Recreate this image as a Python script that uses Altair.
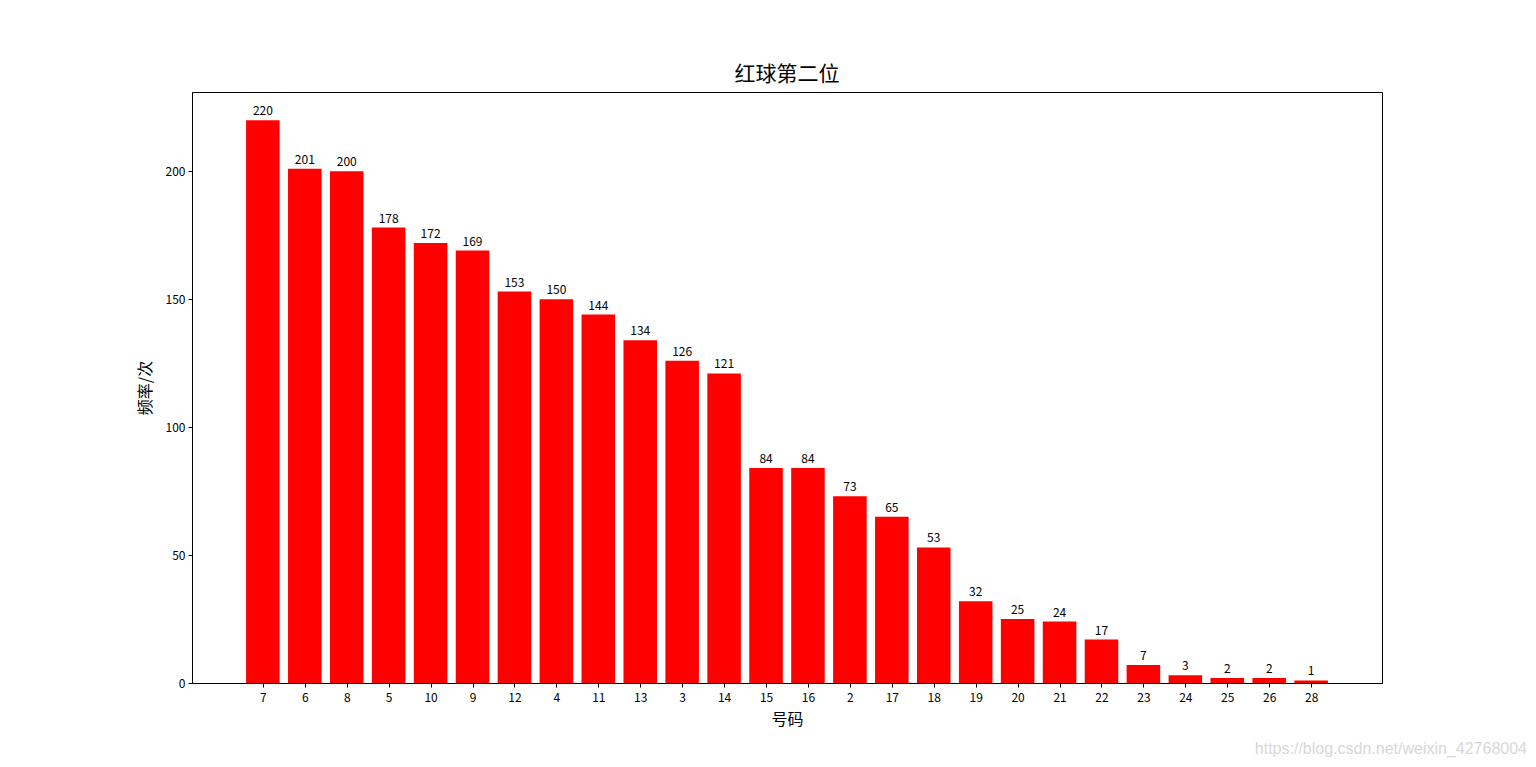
import altair as alt
import pandas as pd

numbers = ["7", "6", "8", "5", "10", "9", "12", "4", "11", "13", "3", "14", "15",
           "16", "2", "17", "18", "19", "20", "21", "22", "23", "24", "25", "26", "28"]
counts = [220, 201, 200, 178, 172, 169, 153, 150, 144, 134, 126, 121, 84,
          84, 73, 65, 53, 32, 25, 24, 17, 7, 3, 2, 2, 1]

df = pd.DataFrame({"号码": numbers, "次数": counts})
df["idx"] = range(len(df))
df["lo"] = df["idx"] - 0.4
df["hi"] = df["idx"] + 0.4
FONT = "Noto Sans CJK SC"

label_arr = "[" + ",".join("'" + n + "'" for n in numbers) + "]"

x_axis = alt.Axis(title="号码", values=list(range(len(numbers))), grid=False,
                  labelExpr=label_arr + "[datum.value]",
                  labelAngle=0, labelFontSize=12, labelFont=FONT,
                  labelColor="black", titleFont=FONT, titleFontSize=16,
                  titleFontWeight="normal", titleColor="black", titlePadding=8,
                  tickColor="black", tickSize=4, domainColor="black",
                  labelPadding=5, labelFlush=False, labelOverlap=False)
x_scale = alt.Scale(domain=[-1.69, 26.69], nice=False, zero=False, padding=0)
y_scale = alt.Scale(domain=[0, 231], nice=False, padding=0)
y = alt.Y("次数:Q", scale=y_scale,
          axis=alt.Axis(title="频率/次", values=[0, 50, 100, 150, 200], grid=False,
                        labelFontSize=12, labelFont=FONT, labelColor="black",
                        titleFont=FONT, titleFontSize=16, titleFontWeight="normal",
                        titleColor="black", titlePadding=12, tickColor="black",
                        tickSize=4, domainColor="black", labelPadding=3))

bars = alt.Chart(df).mark_bar(color="#ff0000").encode(
    x=alt.X("lo:Q", scale=x_scale, axis=x_axis), x2="hi:Q", y=y, y2=alt.datum(0))
labels = alt.Chart(df).mark_text(baseline="bottom", dy=-2, fontSize=12, font=FONT,
                                 color="black").encode(
    x=alt.X("idx:Q", scale=x_scale), y=y, text="次数:Q")
wm = alt.Chart(pd.DataFrame({"t": ["https://blog.csdn.net/weixin_42768004"]})).mark_text(
    align="right", baseline="middle", fontSize=16, font="Liberation Sans", color="#d8d8d8"
).encode(x=alt.value(1335), y=alt.value(657), text="t:N")

chart = alt.layer(bars, labels, wm).properties(
    width=1190, height=591,
    title=alt.TitleParams("红球第二位", fontSize=21, font=FONT, fontWeight="normal",
                          color="black", anchor="middle", offset=7),
    autosize=alt.AutoSizeParams(type="none"),
    padding={"left": 184, "top": 84, "right": 146, "bottom": 76},
).configure_view(stroke="black", strokeWidth=1)

chart.save("out.html", embed_options={"renderer": "svg", "actions": False})
